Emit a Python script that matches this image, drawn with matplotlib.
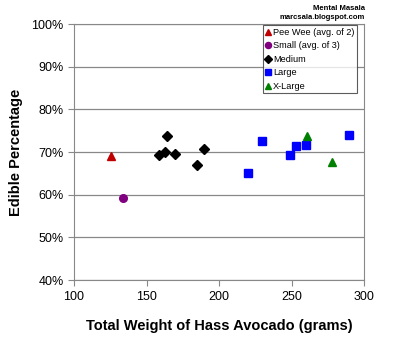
import matplotlib
matplotlib.use('Agg')
import matplotlib.pyplot as plt
from matplotlib.ticker import FuncFormatter

plt.rcParams['font.family'] = ['Liberation Sans', 'DejaVu Sans']

# data (weight in grams, edible %)
peewee_x = [125.8]
peewee_y = [69.1]
small_x = [133.9]
small_y = [59.2]
medium_x = [158.7, 162.9, 163.8, 169.8, 185.0, 189.8]
medium_y = [69.4, 70.1, 73.9, 69.6, 67.1, 70.7]
large_x = [219.9, 229.8, 248.9, 252.9, 260.0, 289.9]
large_y = [65.2, 72.5, 69.3, 71.4, 71.7, 74.0]
xlarge_x = [260.9, 277.9]
xlarge_y = [73.7, 67.7]

x_ticks = [100, 150, 200, 250, 300]
y_ticks = [40, 50, 60, 70, 80, 90, 100]

fig = plt.figure(figsize=(4, 3.4), dpi=100)
ax = fig.add_axes([0.185, 0.176, 0.725, 0.753])

ax.plot(peewee_x, peewee_y, '^', color='#c00000', ms=6, label='Pee Wee (avg. of 2)')
ax.plot(small_x, small_y, 'o', color='#800080', ms=5.5, label='Small (avg. of 3)')
ax.plot(medium_x, medium_y, 'D', color='black', ms=4.8, label='Medium')
ax.plot(large_x, large_y, 's', color='#0000ff', ms=5.5, label='Large')
ax.plot(xlarge_x, xlarge_y, '^', color='#008000', ms=6, label='X-Large')

ax.set_xlim(100, 300)
ax.set_ylim(40, 100)
ax.set_xticks(x_ticks)
ax.set_yticks(y_ticks)
ax.yaxis.set_major_formatter(FuncFormatter(lambda v, p: '%d%%' % v))
ax.grid(True, axis='y', color='#888888', lw=0.9)
ax.set_axisbelow(True)
for s in ax.spines.values():
    s.set_color('#888888')
ax.tick_params(colors='#888888', labelcolor='black', labelsize=9, length=4)

ax.set_xlabel('Total Weight of Hass Avocado (grams)', fontsize=10.5, fontweight='bold', labelpad=12)
ax.set_ylabel('Edible Percentage', fontsize=10.5, fontweight='bold', labelpad=6)

leg = ax.legend(loc='upper right', fontsize=6.6, frameon=True, fancybox=False,
                handlelength=0.6, handletextpad=0.3, borderpad=0.25, labelspacing=0.5,
                bbox_to_anchor=(0.975, 0.995), borderaxespad=0, markerscale=0.8)
leg.get_frame().set_edgecolor('#333333')
leg.get_frame().set_linewidth(0.8)

fig.text(0.912, 0.985, 'Mental Masala', ha='right', va='top', fontsize=5.5, fontweight='bold')
fig.text(0.912, 0.958, 'marcsala.blogspot.com', ha='right', va='top', fontsize=5.5, fontweight='bold')

fig.savefig('out.png', dpi=100)
